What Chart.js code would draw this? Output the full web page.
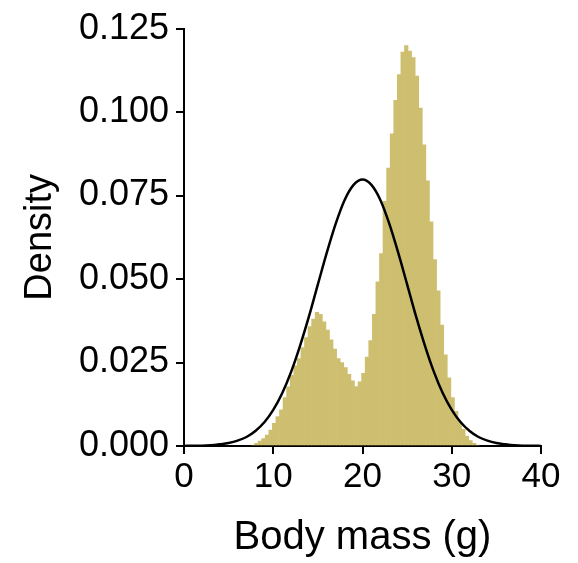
<!DOCTYPE html>
<html>
<head>
<meta charset="utf-8">
<script src="https://cdn.jsdelivr.net/npm/chart.js@4"></script>
<style>
  html, body { margin: 0; padding: 0; background: #fff; }
  #wrap { width: 578px; height: 563px; }
</style>
</head>
<body>
<div id="wrap"><canvas id="massChart" width="578" height="563"></canvas></div>
<script>
// histogram bins (centre of each 0.4 g bin) and their density
const binCentres = [7.7, 8.1, 8.5, 8.9, 9.3, 9.7, 10.1, 10.5, 10.9, 11.3, 11.7, 12.1, 12.5, 12.9, 13.3, 13.7,
  14.1, 14.5, 14.9, 15.3, 15.7, 16.1, 16.5, 16.9, 17.3, 17.7, 18.1, 18.5, 18.9, 19.3, 19.7, 20.1,
  20.5, 20.9, 21.3, 21.7, 22.1, 22.5, 22.9, 23.3, 23.7, 24.1, 24.5, 24.9, 25.3, 25.7, 26.1, 26.5,
  26.9, 27.3, 27.7, 28.1, 28.5, 28.9, 29.3, 29.7, 30.1, 30.5, 30.9, 31.3, 31.7, 32.1, 32.5, 32.9];
const binDensity = [0.0003, 0.0008, 0.0015, 0.0022, 0.0033, 0.0048, 0.0068, 0.0088, 0.0108, 0.0145, 0.0177, 0.0212, 0.0240, 0.0262, 0.0295, 0.0325,
  0.0358, 0.0380, 0.0400, 0.0394, 0.0372, 0.0347, 0.0318, 0.0290, 0.0262, 0.0250, 0.0235, 0.0215, 0.0195, 0.0178, 0.0192, 0.0218,
  0.0266, 0.0316, 0.0394, 0.0492, 0.0576, 0.0733, 0.0832, 0.0935, 0.1035, 0.1112, 0.1180, 0.1199, 0.1183, 0.1163, 0.1108, 0.1012,
  0.0902, 0.0794, 0.0671, 0.0558, 0.0465, 0.0362, 0.0273, 0.0204, 0.0145, 0.0104, 0.0075, 0.0050, 0.0030, 0.0016, 0.0008, 0.0003];

// the black curve, read at every gram
const curveX = [0, 1, 2, 3, 4, 5, 6, 7, 8, 9, 10, 11, 12, 13, 14, 15, 16, 17, 18, 19, 20,
  21, 22, 23, 24, 25, 26, 27, 28, 29, 30, 31, 32, 33, 34, 35, 36, 37, 38, 39, 40];
const curveY = [0.0000, 0.0001, 0.0001, 0.0002, 0.0005, 0.0009, 0.0016, 0.0027, 0.0045, 0.0071, 0.0108,
  0.0158, 0.0222, 0.0300, 0.0388, 0.0484, 0.0579, 0.0666, 0.0737, 0.0782, 0.0798,
  0.0782, 0.0737, 0.0666, 0.0579, 0.0484, 0.0388, 0.0300, 0.0222, 0.0158, 0.0108,
  0.0071, 0.0045, 0.0027, 0.0016, 0.0009, 0.0005, 0.0002, 0.0001, 0.0001, 0.0000];

const xTicks = [0, 10, 20, 30, 40];
const yTicks = [0, 0.025, 0.05, 0.075, 0.1, 0.125];

const fontName = '"Liberation Sans", Arial, Helvetica, sans-serif';
const barColour = 'rgb(206, 191, 112)';

const histData = binCentres.map((c, i) => ({ x: c, y: binDensity[i] }));
const curveData = curveX.map((x, i) => ({ x: x, y: curveY[i] }));

const axisLook = () => ({
  border: { display: true, color: '#000', width: 2 },
  grid: { offset: false, drawOnChartArea: false, drawTicks: true, tickLength: 8, color: '#000', lineWidth: 2 }
});

const config = {
  type: 'bar',
  data: {
    datasets: [{
      type: 'line',
      data: curveData,
      borderColor: '#000',
      borderWidth: 2.5,
      pointRadius: 0,
      fill: false,
      cubicInterpolationMode: 'monotone',
      order: 0
    }, {
      type: 'bar',
      data: histData,
      backgroundColor: barColour,
      borderWidth: 0,
      barPercentage: 1,
      categoryPercentage: 1,
      order: 1
    }]
  },
  options: {
    responsive: false,
    animation: false,
    layout: { padding: { left: 0, right: 37, top: 22, bottom: 0 } },
    plugins: { legend: { display: false }, tooltip: { enabled: false } },
    scales: {
      x: {
        type: 'linear',
        min: 0,
        max: 40,
        offset: false,
        ...axisLook(),
        afterBuildTicks: scale => { scale.ticks = xTicks.map(v => ({ value: v })); },
        afterFit: scale => { scale.height = 117; },
        ticks: { color: '#000', padding: 2, maxRotation: 0, font: { family: fontName, size: 35 } },
        title: { display: true, text: 'Body mass (g)', color: '#000', padding: { top: 0, bottom: 5 },
          font: { family: fontName, size: 40, lineHeight: 1 } }
      },
      y: {
        min: 0,
        max: 0.125,
        ...axisLook(),
        afterBuildTicks: scale => { scale.ticks = yTicks.map(v => ({ value: v })); },
        afterFit: scale => { scale.width = 184; },
        ticks: { color: '#000', padding: 7, autoSkip: false, font: { family: fontName, size: 36 },
          callback: v => v.toFixed(3) },
        title: { display: true, text: 'Density', color: '#000', padding: { top: 22, bottom: 0 },
          font: { family: fontName, size: 38, lineHeight: 1 } }
      }
    }
  }
};

const massChart = new Chart(document.getElementById('massChart'), config);
</script>
</body>
</html>
